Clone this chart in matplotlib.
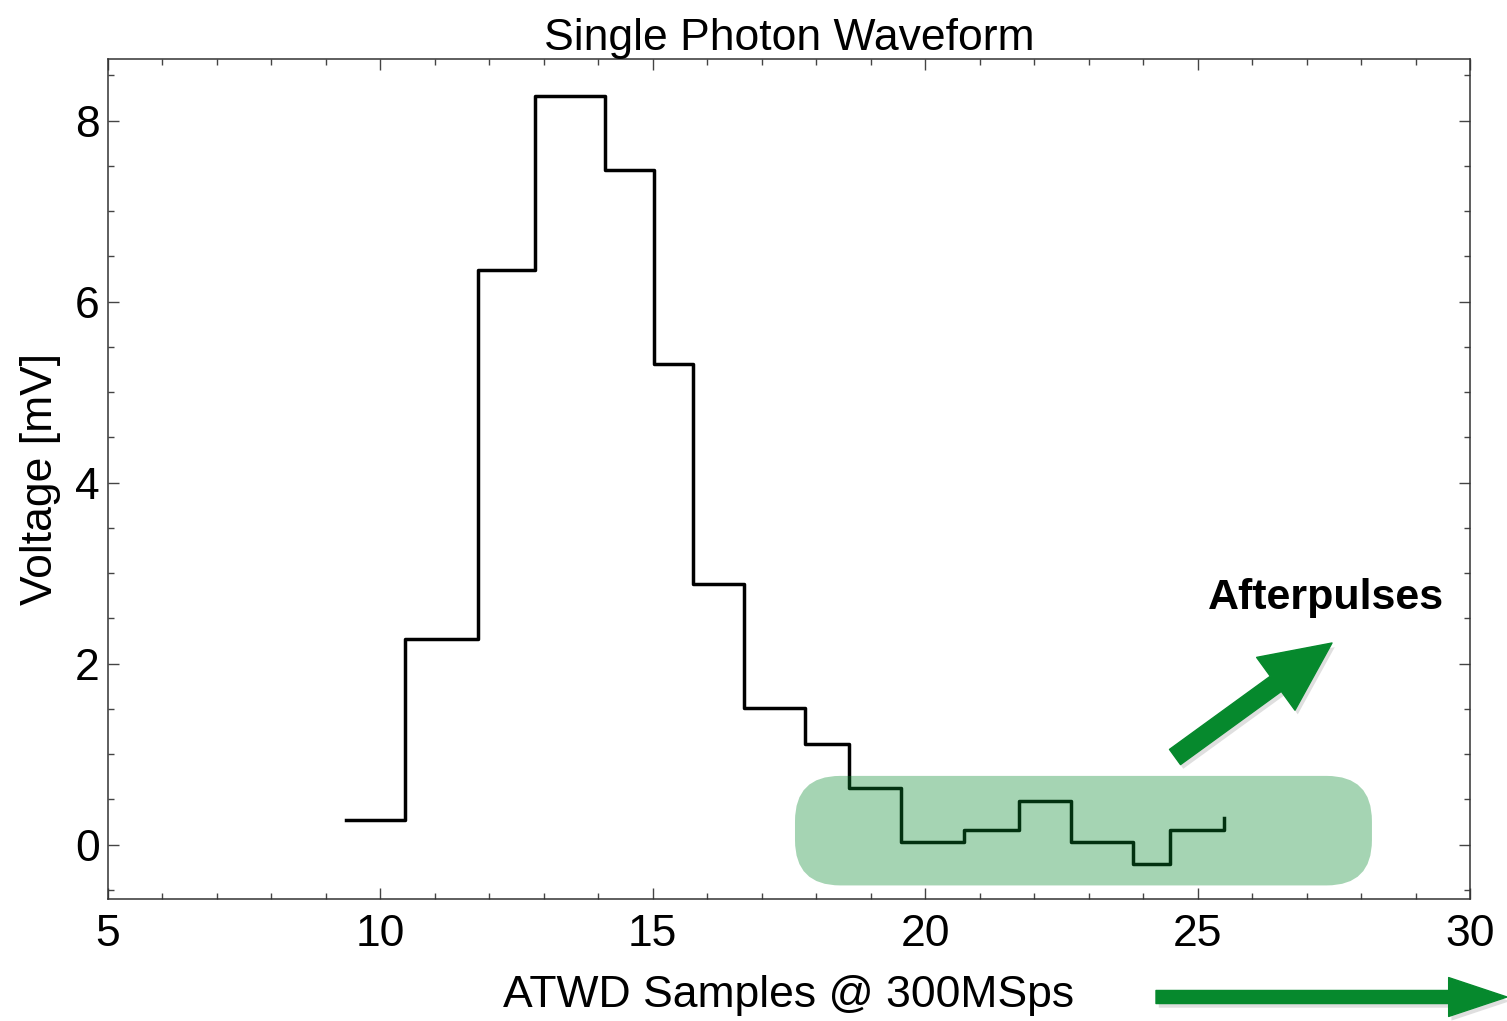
import matplotlib
matplotlib.use("Agg")
import matplotlib.pyplot as plt
from matplotlib.patches import FancyBboxPatch, FancyArrowPatch, ArrowStyle
from matplotlib.ticker import MultipleLocator
import matplotlib.patheffects as pe

plt.rcParams['font.family'] = ['Liberation Sans', 'DejaVu Sans']

# step edges (sample boundaries) and voltages [mV]
edges = [9.37, 10.45, 11.79, 12.84, 14.12, 15.02, 15.74, 16.67, 17.79, 18.60,
         19.56, 20.71, 21.72, 22.68, 23.81, 24.49, 25.48]
volts = [0.27, 2.27, 6.35, 8.27, 7.45, 5.31, 2.88, 1.51, 1.11, 0.63,
         0.03, 0.16, 0.48, 0.03, -0.21, 0.16, 0.29]

xticks = [5, 10, 15, 20, 25, 30]
yticks = [0, 2, 4, 6, 8]

# afterpulse highlight region (data units)
box_x = (17.61, 28.2)
box_y = (-0.45, 0.76)

W, H = 1507, 1021
fig = plt.figure(figsize=(W / 100, H / 100), dpi=100)
ax = fig.add_axes([108 / W, 1 - 899 / H, (1470 - 108) / W, (899 - 59) / H])

ax.step(edges, volts, where='post', color='black', lw=2.5, zorder=2)

ax.set_xlim(5, 30)
ax.set_ylim(-0.6, 8.68)
ax.set_xticks(xticks)
ax.set_yticks(yticks)
ax.xaxis.set_minor_locator(MultipleLocator(1))
ax.yaxis.set_minor_locator(MultipleLocator(0.5))
ax.tick_params(which='both', direction='in', top=True, right=True,
               color='#444444', labelsize=32, width=1.0)
ax.tick_params(which='major', length=8)
ax.tick_params(which='minor', length=4)
ax.tick_params(axis='x', which='major', pad=11)
ax.tick_params(axis='y', which='major', pad=6)
for s in ax.spines.values():
    s.set_color('#333333')
    s.set_linewidth(1.1)

ax.set_title('Single Photon Waveform', fontsize=32, pad=2)
ax.set_xlabel('ATWD Samples @ 300MSps', fontsize=32, labelpad=14)
ax.set_ylabel('Voltage [mV]', fontsize=32, labelpad=10)

green = '#06892d'
# rounded highlight box
r = 0.83
asp = (1 / 90.5) / (1 / 54.48)
box = FancyBboxPatch((box_x[0], box_y[0]), box_x[1] - box_x[0], box_y[1] - box_y[0],
                     boxstyle=f'round,pad=0,rounding_size={r}', mutation_aspect=asp,
                     facecolor=green, alpha=0.36, edgecolor='none', zorder=3)
ax.add_patch(box)

ax.text(27.36, 2.72, 'Afterpulses', fontsize=31, fontweight='bold',
        ha='center', va='center', zorder=4)

shadow = [pe.SimplePatchShadow(offset=(2, -3), alpha=0.25, shadow_rgbFace='gray'), pe.Normal()]
a1 = FancyArrowPatch((1175, H - 757), (1332, H - 643), transform=None,
                     arrowstyle=ArrowStyle('simple', head_length=50, head_width=47, tail_width=13.5),
                     mutation_scale=1, color=green, shrinkA=0, shrinkB=0, zorder=5)
a1.set_path_effects(shadow)
fig.add_artist(a1)
a2 = FancyArrowPatch((1156, H - 997), (1507, H - 997), transform=None,
                     arrowstyle=ArrowStyle('simple', head_length=42, head_width=28, tail_width=9.4),
                     mutation_scale=1, color=green, shrinkA=0, shrinkB=0, zorder=5)
a2.set_path_effects(shadow)
fig.add_artist(a2)

fig.savefig('out.png', dpi=100)
